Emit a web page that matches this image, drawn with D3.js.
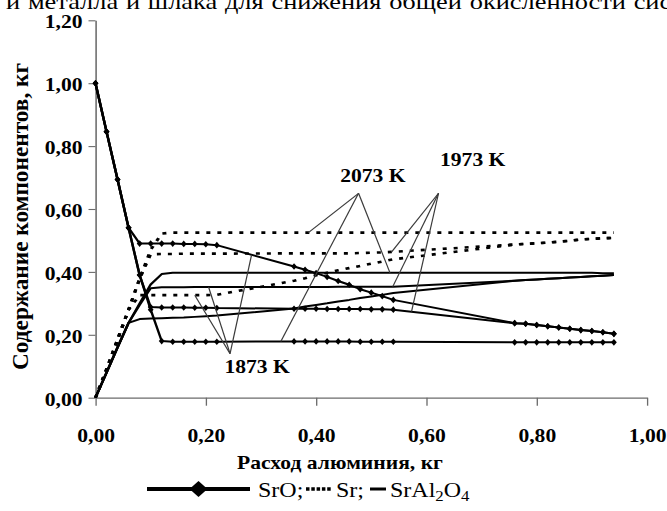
<!DOCTYPE html>
<html>
<head>
<meta charset="utf-8">
<script src="https://cdn.jsdelivr.net/npm/d3@7"></script>
<style>
  html, body { margin: 0; padding: 0; background: #fff; }
  svg { display: block; }
  text { font-family: "Liberation Serif", "Times New Roman", serif; fill: #000; }
</style>
</head>
<body>
<svg id="chart"></svg>
<script>
// Aluminium consumption, kg (calculation points)
const aluminium = [0, 0.02, 0.04, 0.06, 0.08, 0.10, 0.12, 0.14, 0.16, 0.18, 0.20, 0.22,
  0.36, 0.38, 0.40, 0.42, 0.44, 0.46, 0.48, 0.50, 0.52, 0.54,
  0.76, 0.78, 0.80, 0.82, 0.84, 0.86, 0.88, 0.90, 0.92, 0.94];

// SrO content, kg
const srO_1873 = [1.000, 0.846, 0.694, 0.540, 0.490, 0.490, 0.490, 0.490, 0.489, 0.489, 0.488, 0.485,
  0.417, 0.407, 0.396, 0.384, 0.371, 0.359, 0.345, 0.334, 0.323, 0.311,
  0.237, 0.235, 0.231, 0.227, 0.223, 0.219, 0.215, 0.212, 0.208, 0.203];
const srO_1973 = [1.000, 0.846, 0.694, 0.540, 0.390, 0.288, 0.287, 0.287, 0.287, 0.286, 0.286, 0.285,
  0.283, 0.283, 0.283, 0.282, 0.282, 0.282, 0.282, 0.281, 0.281, 0.280,
  0.237, 0.235, 0.231, 0.227, 0.223, 0.219, 0.215, 0.212, 0.208, 0.203];
const srO_2073 = [1.000, 0.846, 0.694, 0.540, 0.390, 0.280, 0.180, 0.178, 0.178, 0.178, 0.178, 0.178,
  0.179, 0.179, 0.179, 0.179, 0.179, 0.179, 0.178, 0.178, 0.178, 0.178,
  0.176, 0.176, 0.176, 0.176, 0.176, 0.176, 0.176, 0.176, 0.176, 0.176];

// Sr content, kg
const sr_1873 = [0, 0.090, 0.185, 0.280, 0.326, 0.326, 0.326, 0.326, 0.326, 0.326, 0.326, 0.327,
  0.372, 0.380, 0.389, 0.397, 0.405, 0.412, 0.419, 0.426, 0.433, 0.440,
  0.487, 0.489, 0.491, 0.493, 0.496, 0.499, 0.503, 0.505, 0.507, 0.508];
const sr_1973 = [0, 0.090, 0.185, 0.280, 0.378, 0.456, 0.457, 0.457, 0.458, 0.458, 0.458, 0.458,
  0.459, 0.459, 0.459, 0.459, 0.459, 0.459, 0.460, 0.461, 0.462, 0.464,
  0.487, 0.489, 0.491, 0.493, 0.496, 0.499, 0.503, 0.505, 0.507, 0.508];
const sr_2073 = [0, 0.090, 0.185, 0.280, 0.378, 0.470, 0.522, 0.525, 0.525, 0.525, 0.525, 0.525,
  0.525, 0.525, 0.525, 0.525, 0.525, 0.525, 0.525, 0.525, 0.525, 0.525,
  0.525, 0.525, 0.525, 0.525, 0.525, 0.525, 0.525, 0.525, 0.525, 0.525];

// SrAl2O4 content, kg
const srAl2O4_1873 = [0, 0.080, 0.160, 0.238, 0.250, 0.252, 0.253, 0.254, 0.255, 0.257, 0.259, 0.261,
  0.284, 0.290, 0.295, 0.300, 0.306, 0.311, 0.317, 0.322, 0.327, 0.333,
  0.372, 0.374, 0.376, 0.378, 0.380, 0.382, 0.384, 0.386, 0.388, 0.390];
const srAl2O4_1973 = [0, 0.080, 0.160, 0.238, 0.295, 0.348, 0.351, 0.351, 0.351, 0.352, 0.352, 0.352,
  0.352, 0.352, 0.352, 0.352, 0.353, 0.353, 0.353, 0.353, 0.353, 0.353,
  0.372, 0.374, 0.376, 0.378, 0.380, 0.382, 0.384, 0.386, 0.388, 0.390];
const srAl2O4_2073 = [0, 0.080, 0.160, 0.238, 0.300, 0.360, 0.393, 0.397, 0.397, 0.397, 0.397, 0.397,
  0.397, 0.397, 0.397, 0.397, 0.397, 0.397, 0.397, 0.397, 0.397, 0.397,
  0.397, 0.397, 0.397, 0.397, 0.397, 0.397, 0.397, 0.397, 0.396, 0.396];

const xTicks = [0, 0.2, 0.4, 0.6, 0.8, 1.0];
const yTicks = [0, 0.2, 0.4, 0.6, 0.8, 1.0, 1.2];

// Temperature call-outs: label, label anchor, fan origin, and the curves each one points at
const tempLabels = ["1873 K", "1973 K", "2073 K"];
const labelAnchor = [[0.293, 0.078], [0.684, 0.737], [0.503, 0.686]];
const fanOrigin = [[0.244, 0.140], [0.622, 0.650], [0.477, 0.650]];
const fanTargets = [
  [["sr_1873", 0.180], ["srAl2O4_1973", 0.205], ["srO_1873", 0.283]],
  [["sr_1973", 0.537], ["srAl2O4_1973", 0.539], ["srO_1973", 0.573]],
  [["sr_2073", 0.386], ["srO_2073", 0.336], ["srAl2O4_2073", 0.534]]
];

const series = {
  srO_1873, srO_1973, srO_2073,
  sr_1873, sr_1973, sr_2073,
  srAl2O4_1873, srAl2O4_1973, srAl2O4_2073
};

// ---------------------------------------------------------------------------
const W = 667, H = 511;
const K = 1.2;               // the figure is set 1.2x wider than tall
const X = px => px / K;      // page pixels -> user units (horizontal)

const svg = d3.select("#chart")
  .attr("width", W).attr("height", H)
  .attr("viewBox", `0 0 ${W / K} ${H}`)
  .attr("preserveAspectRatio", "none");

const x = d3.scaleLinear().domain([0, 1]).range([X(95.5), X(647)]);
const y = d3.scaleLinear().domain([0, 1.2]).range([397.7, 20.3]);

const fmt = d3.formatLocale({ decimal: ",", thousands: "\u00a0", grouping: [3], currency: ["", ""] }).format(".2f");

// heading line of the page, running off the top and right edges
svg.append("text")
  .attr("x", X(6)).attr("y", 8.5)
  .style("font-size", "22px")
  .style("word-spacing", "1px")
  .text("и металла и шлака для снижения общей окисленности системы");

// axes
const axisColor = "#6b6b6b";
const yAxis = svg.append("g")
  .attr("transform", `translate(${x(0)},0)`)
  .call(d3.axisLeft(y).tickValues(yTicks).tickFormat(fmt)
    .tickSize(X(7)).tickSizeOuter(0).tickPadding(X(6)));
const xAxis = svg.append("g")
  .attr("transform", `translate(0,${y(0)})`)
  .call(d3.axisBottom(x).tickValues(xTicks).tickFormat(fmt)
    .tickSize(8).tickSizeOuter(0).tickPadding(36));

[yAxis, xAxis].forEach(g => {
  g.select(".domain").attr("stroke", axisColor).attr("stroke-width", 1.3);
  g.selectAll(".tick line").attr("stroke", axisColor).attr("stroke-width", 1.1);
  g.selectAll(".tick text")
    .attr("fill", "#000")
    .style("font-family", '"Liberation Serif", "Times New Roman", serif')
    .style("font-size", "18px")
    .style("font-weight", "bold");
});
yAxis.selectAll(".tick text").attr("dy", "0.41em");
xAxis.selectAll(".tick text").attr("dy", "0");

// axis titles
svg.append("text")
  .attr("transform", `translate(${X(28)},216.5) rotate(-90)`)
  .attr("text-anchor", "middle")
  .attr("textLength", 307).attr("lengthAdjust", "spacingAndGlyphs")
  .style("font-size", "20px").style("font-weight", "bold")
  .text("Содержание компонентов, кг");

svg.append("text")
  .attr("x", X(340)).attr("y", 469)
  .attr("text-anchor", "middle")
  .style("font-size", "18px").style("font-weight", "bold")
  .text("Расход алюминия, кг");

// ---------------------------------------------------------------------------
const pts = arr => aluminium.map((a, i) => [a, arr[i]]);
const line = d3.line().x(d => x(d[0])).y(d => y(d[1]));
const plot = svg.append("g");

// SrAl2O4 — solid
[srAl2O4_1873, srAl2O4_1973, srAl2O4_2073].forEach(s => {
  plot.append("path").attr("d", line(pts(s)))
    .attr("fill", "none").attr("stroke", "#000").attr("stroke-width", 2)
    .attr("stroke-linejoin", "round");
});

// Sr — dotted
[sr_1873, sr_1973, sr_2073].forEach(s => {
  plot.append("path").attr("d", line(pts(s)))
    .attr("fill", "none").attr("stroke", "#000").attr("stroke-width", 2.6)
    .attr("stroke-dasharray", `${X(4)},${X(7)}`);
});

// SrO — solid with diamond markers
const diamond = (a, b) => `M0,${-b}L${a},0L0,${b}L${-a},0Z`;
[srO_1873, srO_1973, srO_2073].forEach(s => {
  plot.append("path").attr("d", line(pts(s)))
    .attr("fill", "none").attr("stroke", "#000").attr("stroke-width", 2)
    .attr("stroke-linejoin", "round");
  plot.append("g").selectAll("path").data(pts(s)).join("path")
    .attr("transform", d => `translate(${x(d[0])},${y(d[1])})`)
    .attr("d", diamond(X(2.9), 3.3))
    .attr("fill", "#000");
});

// ---------------------------------------------------------------------------
// temperature call-outs
const valueAt = (name, xv) => {
  const s = series[name];
  const i = Math.max(1, d3.bisectLeft(aluminium, xv));
  const x0 = aluminium[i - 1], x1 = aluminium[i];
  return s[i - 1] + (s[i] - s[i - 1]) * (xv - x0) / (x1 - x0);
};
const notes = svg.append("g");
tempLabels.forEach((lab, k) => {
  const [ox, oy] = fanOrigin[k];
  fanTargets[k].forEach(([name, tx]) => {
    notes.append("line")
      .attr("x1", x(ox)).attr("y1", y(oy))
      .attr("x2", x(tx)).attr("y2", y(valueAt(name, tx)))
      .attr("stroke", "#3a3a3a").attr("stroke-width", 1);
  });
  notes.append("text")
    .attr("x", x(labelAnchor[k][0])).attr("y", y(labelAnchor[k][1]))
    .attr("text-anchor", "middle")
    .style("font-size", "18px").style("font-weight", "bold")
    .text(lab);
});

// ---------------------------------------------------------------------------
// legend
const lg = svg.append("g");
const ly = 489;
lg.append("line").attr("x1", X(147)).attr("x2", X(250)).attr("y1", ly).attr("y2", ly)
  .attr("stroke", "#000").attr("stroke-width", 4);
lg.append("path").attr("transform", `translate(${X(198.5)},${ly})`)
  .attr("d", diamond(X(9), 8)).attr("fill", "#000");
lg.append("text").attr("x", X(258)).attr("y", 497).style("font-size", "20px").text("SrO;");
lg.append("line").attr("x1", X(306)).attr("x2", X(331)).attr("y1", ly).attr("y2", ly)
  .attr("stroke", "#000").attr("stroke-width", 3.5)
  .attr("stroke-dasharray", `${X(3.5)},${X(1.8)}`);
lg.append("text").attr("x", X(336)).attr("y", 497).style("font-size", "20px").text("Sr;");
lg.append("line").attr("x1", X(370)).attr("x2", X(386)).attr("y1", ly).attr("y2", ly)
  .attr("stroke", "#000").attr("stroke-width", 3);
const t = lg.append("text").attr("x", X(390)).attr("y", 497).style("font-size", "20px");
t.append("tspan").text("SrAl");
t.append("tspan").attr("dy", 4).style("font-size", "14px").text("2");
t.append("tspan").attr("dy", -4).text("O");
t.append("tspan").attr("dy", 4).style("font-size", "14px").text("4");
</script>
</body>
</html>
